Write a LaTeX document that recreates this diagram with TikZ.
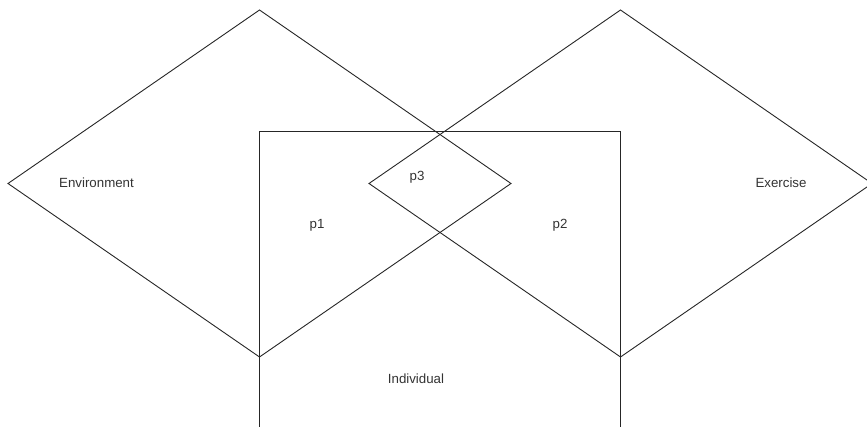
\documentclass[tikz,border=0pt]{standalone}
\usepackage{fontspec}
\setmainfont{Liberation Sans}
\begin{document}
\begin{tikzpicture}[x=1pt,y=-1pt,
  shape line/.style={draw=black!85, line width=0.9pt, line join=miter},
  lbl/.style={font=\fontsize{13.3}{15}\selectfont, text=black!80, inner sep=0pt}]
\useasboundingbox (0,0) rectangle (867,427);
\clip (0,0) rectangle (867,427);
% left diamond (Environment)
\coordinate (lt) at (259.5,10);
\coordinate (ll) at (8,183.5);
\coordinate (lb) at (259.5,357);
\coordinate (lr) at (511,183.5);
% right diamond (Exercise)
\coordinate (rt) at (620.5,10);
\coordinate (rl) at (369,183.5);
\coordinate (rb) at (620.5,357);
\coordinate (rr) at (872,183.5);
% rectangle (Individual)
\coordinate (ia) at (259.5,440);
\coordinate (ib) at (259.5,131.5);
\coordinate (ic) at (620.5,131.5);
\coordinate (id) at (620.5,440);
\draw[shape line] (ia) -- (ib) -- (ic) -- (id);
\draw[shape line] (lt) -- (lr) -- (lb) -- (ll) -- cycle;
\draw[shape line] (rt) -- (rr) -- (rb) -- (rl) -- cycle;
\node[lbl] (env) at (96.5,183) {Environment};
\node[lbl] (exe) at (781,183) {Exercise};
\node[lbl] (p1) at (317,225) {p1};
\node[lbl] (p2) at (560,225) {p2};
\node[lbl] (p3) at (417,177) {p3};
\node[lbl] (ind) at (416,379) {Individual};
\end{tikzpicture}
\end{document}
